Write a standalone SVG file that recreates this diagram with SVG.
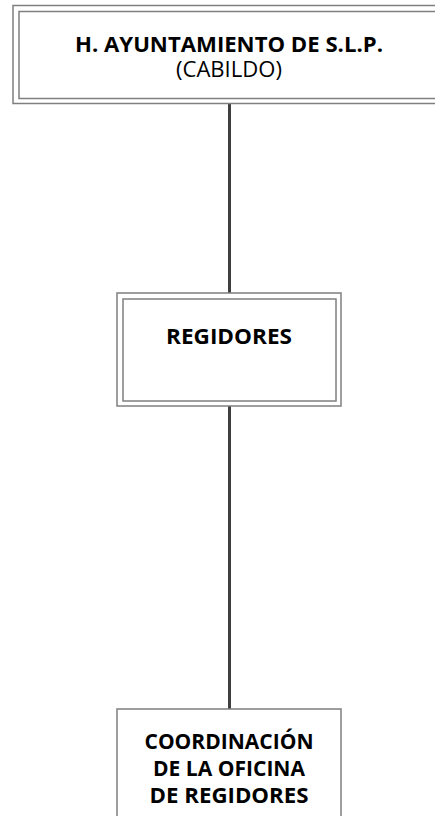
<svg xmlns="http://www.w3.org/2000/svg" width="435" height="816" viewBox="0 0 435 816">
<style>
.box{fill:#ffffff;stroke:#7f7f7f;stroke-width:1.5}
.in{fill:none;stroke:#7f7f7f;stroke-width:1.5}
.conn{stroke:#3f3f3f;stroke-width:3;fill:none}
.b{font-family:"Open Sans","Liberation Sans",sans-serif;font-weight:bold;font-size:22px;fill:#000;text-anchor:middle}
.r{font-family:"Open Sans","Liberation Sans",sans-serif;font-size:22px;fill:#000;text-anchor:middle}
</style>
<rect width="435" height="816" fill="#ffffff"/>
<g id="connectors">
<line class="conn" x1="229.5" y1="103" x2="229.5" y2="293"/>
<line class="conn" x1="229.5" y1="406" x2="229.5" y2="709"/>
</g>
<g id="node-ayuntamiento">
<rect class="box" x="13" y="5.5" width="430" height="98"/>
<rect class="in" x="19" y="11.5" width="420" height="87"/>
<text class="b" x="229" y="52" textLength="308" lengthAdjust="spacingAndGlyphs">H. AYUNTAMIENTO DE S.L.P.</text>
<text class="r" x="229" y="77" textLength="106" lengthAdjust="spacingAndGlyphs">(CABILDO)</text>
</g>
<g id="node-regidores">
<rect class="box" x="117" y="293" width="224" height="113"/>
<rect class="in" x="123" y="299" width="213" height="102"/>
<text class="b" x="229" y="344" textLength="126" lengthAdjust="spacingAndGlyphs">REGIDORES</text>
</g>
<g id="node-coordinacion">
<rect class="box" x="117" y="709" width="224" height="120"/>
<text class="b" x="229" y="749" textLength="169" lengthAdjust="spacingAndGlyphs">COORDINACIÓN</text>
<text class="b" x="229" y="776" textLength="152" lengthAdjust="spacingAndGlyphs">DE LA OFICINA</text>
<text class="b" x="229" y="803" textLength="159" lengthAdjust="spacingAndGlyphs">DE REGIDORES</text>
</g>
</svg>
